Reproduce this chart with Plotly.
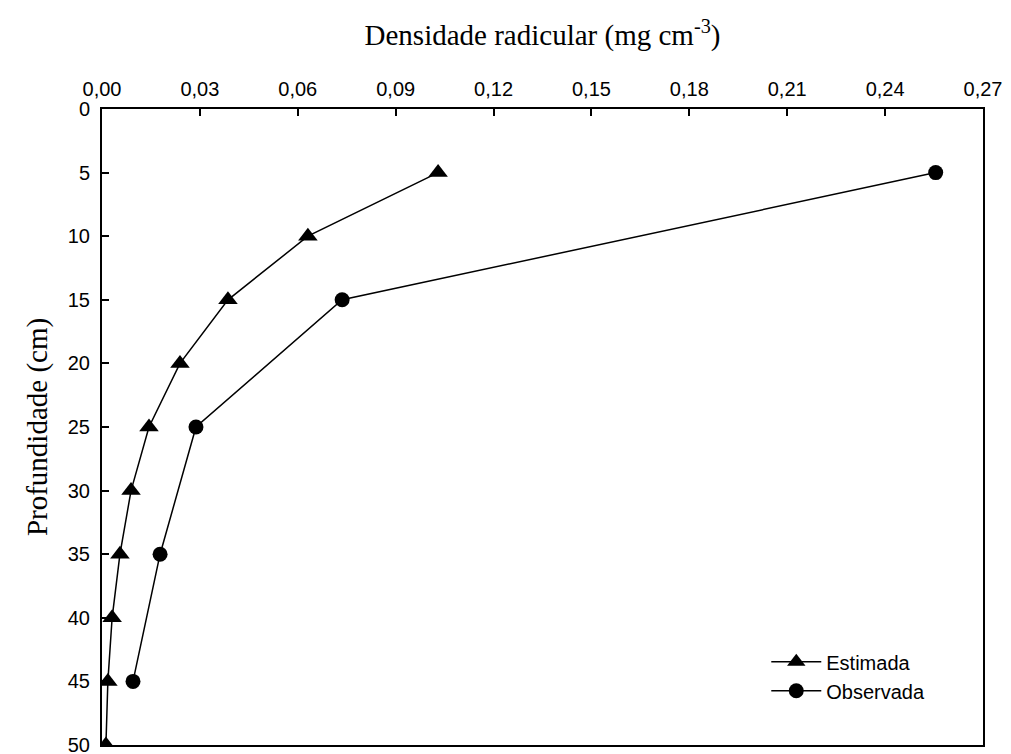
import plotly.graph_objects as go

depth_est = [5, 10, 15, 20, 25, 30, 35, 40, 45, 50]
dens_est = [0.103, 0.0631, 0.0386, 0.0239, 0.0144, 0.0089, 0.0055, 0.0031, 0.0018, 0.0012]

depth_obs = [5, 15, 25, 35, 45]
dens_obs = [0.2555, 0.0736, 0.0288, 0.0178, 0.0095]

x_ticks = [0, 0.03, 0.06, 0.09, 0.12, 0.15, 0.18, 0.21, 0.24, 0.27]
y_ticks = [0, 5, 10, 15, 20, 25, 30, 35, 40, 45, 50]

fig = go.Figure()
fig.add_trace(go.Scatter(
    x=dens_est, y=depth_est, mode="lines+markers", name="Estimada",
    line=dict(color="black", width=1.5),
    marker=dict(symbol="triangle-up", size=17, color="black"),
))
fig.add_trace(go.Scatter(
    x=dens_obs, y=depth_obs, mode="lines+markers", name="Observada",
    line=dict(color="black", width=1.5),
    marker=dict(symbol="circle", size=15, color="black"),
))

tickfont = dict(family="Liberation Sans, Arial", size=20, color="black")
titlefont = dict(family="Liberation Serif, Times New Roman", size=29, color="black")

fig.update_layout(
    width=1003, height=746,
    margin=dict(l=94, r=28, t=101, b=9),
    paper_bgcolor="white", plot_bgcolor="white",
    separators=",.",
    showlegend=True,
    legend=dict(x=0.754, y=0.108, xanchor="left", yanchor="middle",
                font=dict(family="Liberation Sans, Arial", size=20, color="black"),
                bgcolor="rgba(0,0,0,0)", tracegroupgap=0, itemwidth=50),
    xaxis=dict(
        side="top", range=[0, 0.27], tickvals=x_ticks, tickformat=".2f",
        ticks="inside", ticklen=7, tickwidth=1.5, tickcolor="black",
        ticklabelstandoff=3, automargin=False, ticklabeloverflow="allow",
        showline=True, linecolor="black", linewidth=2, mirror=True,
        showgrid=False, zeroline=False, tickfont=tickfont,
        title=dict(text="Densidade radicular (mg cm<sup>-3</sup>)", font=titlefont, standoff=24),
    ),
    yaxis=dict(
        range=[50, 0], tickvals=y_ticks,
        ticks="inside", ticklen=7, tickwidth=1.5, tickcolor="black",
        ticklabelstandoff=6, automargin=False, ticklabeloverflow="allow",
        showline=True, linecolor="black", linewidth=2, mirror=True,
        showgrid=False, zeroline=False, tickfont=tickfont,
        title=dict(text="Profundidade (cm)", font=titlefont, standoff=12),
    ),
)

fig.write_html("out.html")
